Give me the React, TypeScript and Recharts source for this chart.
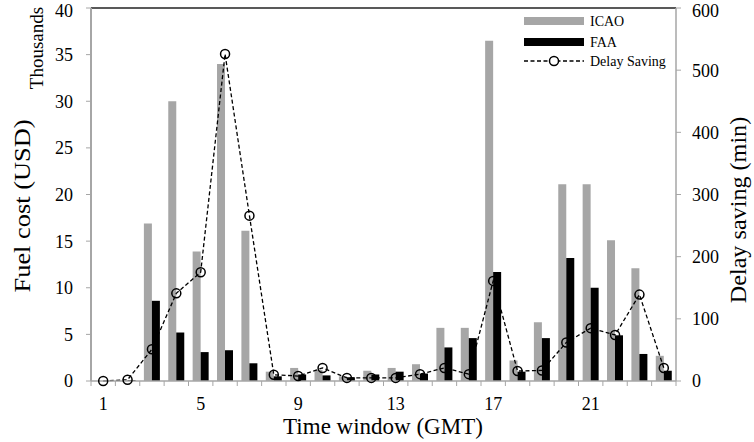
import { ComposedChart, Bar, Line, XAxis, YAxis, ReferenceLine, Customized } from 'recharts'

// time windows (GMT)
const windows = ['1', '2', '3', '4', '5', '6', '7', '8', '9', '10', '11', '12', '13', '14', '15', '16', '17', '18', '19', '20', '21', '22', '23', '24']
// fuel cost, thousands of USD
const icao = [0, 0, 16.9, 30, 13.9, 34, 16.1, 1.0, 1.4, 1.2, 0.5, 1.1, 1.4, 1.8, 5.7, 5.7, 36.5, 2.2, 6.3, 21.1, 21.1, 15.1, 12.1, 2.7]
const faa = [0, 0.1, 8.6, 5.2, 3.1, 3.3, 1.9, 0.5, 0.7, 0.6, 0.4, 0.7, 1.0, 0.8, 3.6, 4.6, 11.7, 1.0, 4.6, 13.2, 10.0, 4.9, 2.9, 1.1]
// delay saving, minutes
const delaySaving = [0, 2, 51, 141, 175, 526, 266, 10, 8, 21, 5, 5, 5, 11, 21, 11, 161, 16, 17, 62, 85, 74, 139, 21]

const leftTicks = [0, 5, 10, 15, 20, 25, 30, 35, 40]
const rightTicks = [0, 100, 200, 300, 400, 500, 600]

const data = windows.map((w, i) => ({
  window: w,
  icao: icao[i],
  faa: faa[i],
  delay: delaySaving[i],
}))

const FONT = "'Liberation Serif', 'Times New Roman', serif"
const GRAY = '#a6a6a6'
const PLOT_LEFT = 91
const PLOT_RIGHT = 676
const PLOT_BOTTOM = 381
const BAND = (PLOT_RIGHT - PLOT_LEFT) / windows.length

const XTick = (props: any) => {
  const { x, index, payload } = props
  const half = BAND / 2
  return (
    <g>
      <line x1={x - half} x2={x - half} y1={PLOT_BOTTOM} y2={PLOT_BOTTOM + 5} stroke={GRAY} strokeWidth={1} />
      {index === windows.length - 1 && (
        <line x1={x + half} x2={x + half} y1={PLOT_BOTTOM} y2={PLOT_BOTTOM + 5} stroke={GRAY} strokeWidth={1} />
      )}
      {index % 4 === 0 && (
        <text x={x} y={410} textAnchor="middle" fontFamily={FONT} fontSize={18} fill="#000">
          {payload.value}
        </text>
      )}
    </g>
  )
}

const SavingDot = (props: any) => {
  const { cx, cy, index } = props
  return <circle key={`dot-${index}`} cx={cx} cy={cy} r={4.5} fill="none" stroke="#000" strokeWidth={1.5} />
}

const Titles = () => (
  <g fontFamily={FONT} fill="#000">
    <text x={0} y={0} fontSize={24} textAnchor="middle" transform="translate(30 206) rotate(-90) scale(1.1 1)">Fuel cost (USD)</text>
    <text x={0} y={0} fontSize={19} textAnchor="middle" transform="translate(43 48) rotate(-90)">Thousands</text>
    <text x={0} y={0} fontSize={23} textAnchor="middle" transform="translate(746 210) rotate(-90) scale(1.05 1)">Delay saving (min)</text>
    <text x={383} y={434} fontSize={23} textAnchor="middle">Time window (GMT)</text>
    {/* legend */}
    <rect x={524} y={17} width={60} height={8} fill={GRAY} />
    <text x={590} y={26} fontSize={14}>ICAO</text>
    <rect x={524} y={38} width={60} height={8} fill="#000" />
    <text x={590} y={47} fontSize={14}>FAA</text>
    <line x1={524} x2={584} y1={61} y2={61} stroke="#000" strokeWidth={1.3} strokeDasharray="4 2.5" />
    <circle cx={554} cy={61} r={4.5} fill="#fff" stroke="#000" strokeWidth={1.5} />
    <text x={590} y={66} fontSize={14}>Delay Saving</text>
  </g>
)

export default function App() {
  return (
    <div style={{ position: 'fixed', left: 0, top: 0, width: 754, height: 442, background: '#fff' }}>
      <ComposedChart
        width={754}
        height={442}
        data={data}
        margin={{ top: 8, right: 0, bottom: 0, left: 0 }}
        barCategoryGap="17%"
        barGap={0}
      >
        <XAxis
          dataKey="window"
          interval={0}
          height={61}
          tickLine={false}
          axisLine={{ stroke: GRAY, strokeWidth: 1.5 }}
          tick={<XTick />}
        />
        <YAxis
          yAxisId="left"
          width={91}
          domain={[0, 40]}
          ticks={leftTicks}
          tickSize={5}
          tickMargin={13}
          axisLine={{ stroke: GRAY, strokeWidth: 2 }}
          tickLine={{ stroke: GRAY }}
          tick={{ fontFamily: FONT, fontSize: 18, fill: '#000' }}
          allowDataOverflow
        />
        <YAxis
          yAxisId="right"
          orientation="right"
          width={78}
          domain={[0, 600]}
          ticks={rightTicks}
          tickSize={5}
          tickMargin={11}
          axisLine={{ stroke: GRAY, strokeWidth: 1.5 }}
          tickLine={{ stroke: GRAY }}
          tick={{ fontFamily: FONT, fontSize: 18, fill: '#000' }}
        />
        <ReferenceLine yAxisId="left" y={40} stroke="#595959" strokeWidth={2} />
        <Bar yAxisId="left" dataKey="icao" name="ICAO" fill={GRAY} isAnimationActive={false} />
        <Bar yAxisId="left" dataKey="faa" name="FAA" fill="#000" isAnimationActive={false} />
        <Line
          yAxisId="right"
          type="linear"
          dataKey="delay"
          name="Delay Saving"
          stroke="#000"
          strokeWidth={1.3}
          strokeDasharray="4 2.5"
          dot={<SavingDot />}
          isAnimationActive={false}
        />
        <Customized component={Titles} />
      </ComposedChart>
    </div>
  )
}
